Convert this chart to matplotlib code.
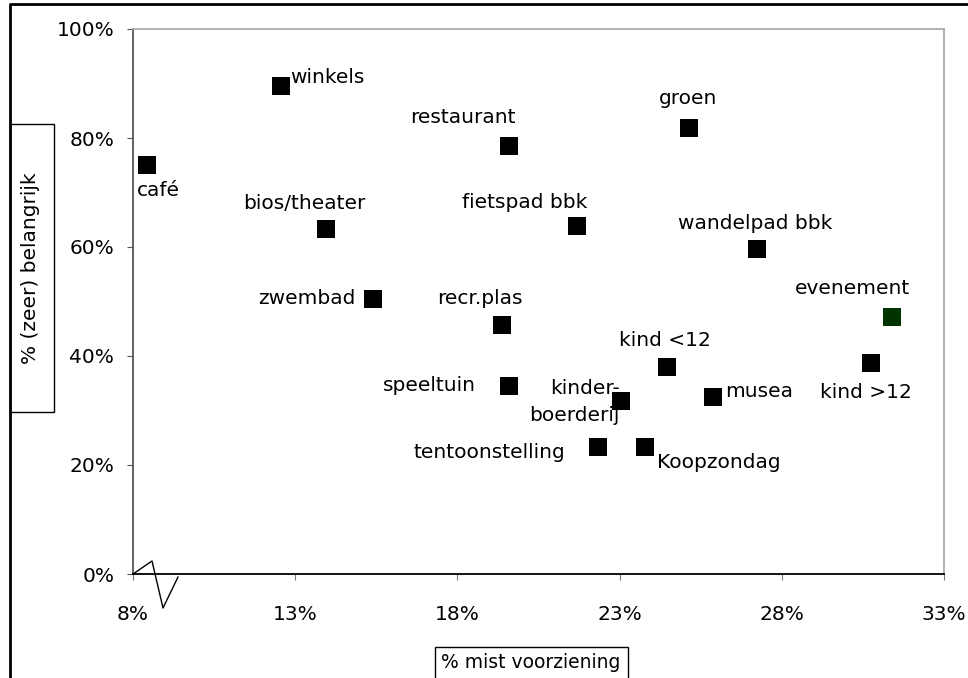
import matplotlib
matplotlib.use("Agg")
import matplotlib.pyplot as plt
from matplotlib.lines import Line2D
from matplotlib.patches import Rectangle

# data (percentages)
labels = ["café", "winkels", "restaurant", "groen", "bios/theater", "fietspad bbk",
          "wandelpad bbk", "zwembad", "recr.plas", "evenement", "kind <12",
          "speeltuin", "kinder-\nboerderij", "musea", "kind >12",
          "tentoonstelling", "Koopzondag"]
mist = [8.43, 12.56, 19.59, 25.14, 13.95, 21.69, 27.24, 15.40, 19.37, 31.40,
        24.46, 19.59, 23.04, 25.88, 30.75, 22.33, 23.78]
belangrijk = [75.0, 89.5, 78.5, 81.8, 63.3, 63.9, 59.6, 50.5, 45.7, 47.2,
              38.0, 34.5, 31.7, 32.5, 38.7, 23.3, 23.3]
colors = ["black"] * 9 + ["#003300"] + ["black"] * 7

xticks = [8, 13, 18, 23, 28, 33]
yticks = [0, 20, 40, 60, 80, 100]

# label placement: (dx, dy) in pixels, horizontal alignment
offsets = [(-10, -25, "left"), (9, 9, "left"), (-46, 29, "center"), (-1, 30, "center"),
           (-22, 26, "center"), (-52, 23, "center"), (-2, 26, "center"),
           (-18, 0, "right"), (-22, 26, "center"), (-40, 28, "center"),
           (-2, 26, "center"), (-33, 0, "right"), (-1, -1, "right"),
           (12, 5, "left"), (-5, -29, "center"), (-33, -5, "right"), (12, -15, "left")]

W, H = 968, 678
fig = plt.figure(figsize=(W / 100, H / 100), dpi=100)
ax = fig.add_axes([133 / W, 1 - 574 / H, (944 - 133) / W, (574 - 29) / H])

for x, y, c in zip(mist, belangrijk, colors):
    ax.plot(x, y, "s", color=c, markersize=13, markeredgewidth=0, clip_on=False)

fs = 14.5
for lab, x, y, (dx, dy, ha) in zip(labels, mist, belangrijk, offsets):
    ax.annotate(lab, (x, y), xytext=(dx, dy), textcoords="offset pixels",
                ha=ha, va="center", fontsize=fs, ma="right", linespacing=1.5)

ax.set_xlim(8, 33)
ax.set_ylim(0, 100)
ax.set_xticks(xticks)
ax.set_xticklabels([f"{t}%" for t in xticks])
ax.set_yticks(yticks)
ax.set_yticklabels([f"{t}%" for t in yticks])
ax.tick_params(axis="x", direction="out", length=4.5, color="#777777", pad=18, labelsize=fs)
ax.tick_params(axis="y", direction="out", length=4.5, color="#555555", pad=9, labelsize=fs)

ax.spines["left"].set_color("#555555")
ax.spines["bottom"].set_color("black")
ax.spines["top"].set_color("#aaaaaa")
ax.spines["right"].set_color("#aaaaaa")
for s in ax.spines.values():
    s.set_linewidth(1.3)

# axis break zigzag at origin
zz = [(133, 574), (152, 561), (163, 608), (178, 577)]
fig.add_artist(Line2D([p[0] / W for p in zz], [1 - p[1] / H for p in zz],
                      color="black", lw=1))

# outer chart frame (left and top)
fig.add_artist(Line2D([10 / W, 10 / W, 1], [0, 1 - 4 / H, 1 - 4 / H], color="black", lw=2))

# boxed axis titles
fig.add_artist(Rectangle((10 / W, 1 - 412 / H), 44 / W, 288 / H, fill=False,
                         edgecolor="black", lw=1))
fig.text(31 / W, 1 - 268 / H, "% (zeer) belangrijk", rotation=90, ha="center",
         va="center", fontsize=fs)
fig.add_artist(Rectangle((435 / W, 1 - 690 / H), 193 / W, 43 / H, fill=False,
                         edgecolor="black", lw=1))
fig.text(531 / W, 1 - 662 / H, "% mist voorziening", ha="center", va="center", fontsize=13.5)

fig.savefig("out.png", dpi=100)
